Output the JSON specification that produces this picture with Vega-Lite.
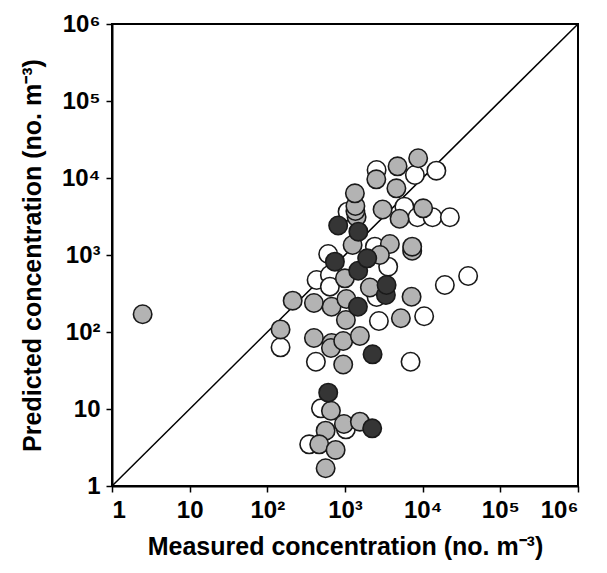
{
  "$schema": "https://vega.github.io/schema/vega-lite/v6.json",
  "width": 466,
  "height": 462,
  "autosize": {"type": "none"},
  "padding": {"left": 112, "top": 24, "right": 29, "bottom": 87},
  "background": "white",
  "config": {
    "view": {"stroke": "#000", "strokeWidth": 2},
    "axis": {
      "grid": false,
      "domainColor": "#000",
      "domainWidth": 2,
      "tickColor": "#000",
      "tickWidth": 1.5,
      "tickSize": 6,
      "labelFont": "Liberation Sans",
      "labelFontWeight": "bold",
      "labelFontSize": 24,
      "labelColor": "#000",
      "titleFont": "Liberation Sans",
      "titleFontWeight": "bold",
      "titleFontSize": 25,
      "titleColor": "#000"
    }
  },
  "layer": [
    {
      "data": {"values": [{"m": 1, "p": 1}, {"m": 1000000, "p": 1000000}]},
      "mark": {"type": "line", "color": "#000", "strokeWidth": 1.5, "clip": true},
      "encoding": {
        "x": {"field": "m", "type": "quantitative", "scale": {"type": "log", "domain": [1, 1000000]},
          "axis": {"values": [1, 10, 100, 1000, 10000, 100000, 1000000], "labelPadding": 6, "titlePadding": 12,
            "labelExpr": "datum.value==1?'1':datum.value==10?'10':datum.value==100?'10²':datum.value==1000?'10³':datum.value==10000?'10⁴':datum.value==100000?'10⁵':'10⁶'",
            "title": "Measured concentration (no. m⁻³)"}},
        "y": {"field": "p", "type": "quantitative", "scale": {"type": "log", "domain": [1, 1000000]},
          "axis": {"values": [1, 10, 100, 1000, 10000, 100000, 1000000], "labelPadding": 6, "titlePadding": 16,
            "labelExpr": "datum.value==1?'1':datum.value==10?'10':datum.value==100?'10²':datum.value==1000?'10³':datum.value==10000?'10⁴':datum.value==100000?'10⁵':'10⁶'",
            "title": "Predicted concentration (no. m⁻³)"}}
      }
    },
    {
      "data": {"values": [
        {"m": 490, "p": 10.2, "g": "open"},
        {"m": 1027, "p": 5.45, "g": "open"},
        {"m": 346, "p": 3.48, "g": "open"},
        {"m": 148, "p": 63.3, "g": "open"},
        {"m": 422, "p": 41.1, "g": "open"},
        {"m": 6986, "p": 41.1, "g": "open"},
        {"m": 2731, "p": 139, "g": "open"},
        {"m": 10450, "p": 160, "g": "open"},
        {"m": 19300, "p": 408, "g": "open"},
        {"m": 38500, "p": 534, "g": "open"},
        {"m": 2552, "p": 285, "g": "open"},
        {"m": 431, "p": 473, "g": "open"},
        {"m": 639, "p": 550, "g": "open"},
        {"m": 639, "p": 388, "g": "open"},
        {"m": 608, "p": 1031, "g": "open"},
        {"m": 2426, "p": 1282, "g": "open"},
        {"m": 3597, "p": 705, "g": "open"},
        {"m": 1080, "p": 3650, "g": "open"},
        {"m": 5812, "p": 4240, "g": "open"},
        {"m": 8550, "p": 3090, "g": "open"},
        {"m": 13400, "p": 3090, "g": "open"},
        {"m": 22400, "p": 3090, "g": "open"},
        {"m": 2552, "p": 12700, "g": "open"},
        {"m": 7940, "p": 10940, "g": "open"},
        {"m": 15000, "p": 12440, "g": "open"},
        {"m": 2.48, "p": 170, "g": "grey"},
        {"m": 659, "p": 9.5, "g": "grey"},
        {"m": 968, "p": 6.39, "g": "grey"},
        {"m": 1555, "p": 6.84, "g": "grey"},
        {"m": 563, "p": 5.23, "g": "grey"},
        {"m": 466, "p": 3.48, "g": "grey"},
        {"m": 757, "p": 2.94, "g": "grey"},
        {"m": 563, "p": 1.7, "g": "grey"},
        {"m": 148, "p": 108, "g": "grey"},
        {"m": 948, "p": 37.8, "g": "grey"},
        {"m": 398, "p": 83.6, "g": "grey"},
        {"m": 672, "p": 71.9, "g": "grey"},
        {"m": 659, "p": 62, "g": "grey"},
        {"m": 948, "p": 76.4, "g": "grey"},
        {"m": 1555, "p": 88.7, "g": "grey"},
        {"m": 212, "p": 255, "g": "grey"},
        {"m": 398, "p": 238, "g": "grey"},
        {"m": 672, "p": 213, "g": "grey"},
        {"m": 1042, "p": 268, "g": "grey"},
        {"m": 1027, "p": 143, "g": "grey"},
        {"m": 5240, "p": 151, "g": "grey"},
        {"m": 7200, "p": 287, "g": "grey"},
        {"m": 2091, "p": 378, "g": "grey"},
        {"m": 997, "p": 498, "g": "grey"},
        {"m": 1253, "p": 1349, "g": "grey"},
        {"m": 3784, "p": 1390, "g": "grey"},
        {"m": 7328, "p": 1137, "g": "grey"},
        {"m": 7328, "p": 1282, "g": "grey"},
        {"m": 2812, "p": 1000, "g": "grey"},
        {"m": 1410, "p": 3118, "g": "grey"},
        {"m": 1361, "p": 3727, "g": "grey"},
        {"m": 1361, "p": 4329, "g": "grey"},
        {"m": 1341, "p": 6325, "g": "grey"},
        {"m": 3048, "p": 3899, "g": "grey"},
        {"m": 10150, "p": 4040, "g": "grey"},
        {"m": 5042, "p": 2960, "g": "grey"},
        {"m": 4589, "p": 7350, "g": "grey"},
        {"m": 2530, "p": 9620, "g": "grey"},
        {"m": 4753, "p": 14190, "g": "grey"},
        {"m": 8750, "p": 18030, "g": "grey"},
        {"m": 608, "p": 16.3, "g": "dark"},
        {"m": 2239, "p": 5.61, "g": "dark"},
        {"m": 2265, "p": 51.3, "g": "dark"},
        {"m": 1466, "p": 213, "g": "dark"},
        {"m": 3360, "p": 302, "g": "dark"},
        {"m": 3430, "p": 408, "g": "dark"},
        {"m": 1479, "p": 625, "g": "dark"},
        {"m": 741, "p": 819, "g": "dark"},
        {"m": 1931, "p": 906, "g": "dark"},
        {"m": 817, "p": 2416, "g": "dark"},
        {"m": 1487, "p": 2008, "g": "dark"}
      ]},
      "mark": {"type": "circle", "stroke": "#1a1a1a", "strokeWidth": 1.6, "opacity": 1, "size": 340},
      "encoding": {
        "x": {"field": "m", "type": "quantitative"},
        "y": {"field": "p", "type": "quantitative"},
        "fill": {"field": "g", "type": "nominal", "scale": {"domain": ["open", "grey", "dark"], "range": ["#ffffff", "#b3b3b3", "#353535"]}, "legend": null}
      }
    }
  ]
}
